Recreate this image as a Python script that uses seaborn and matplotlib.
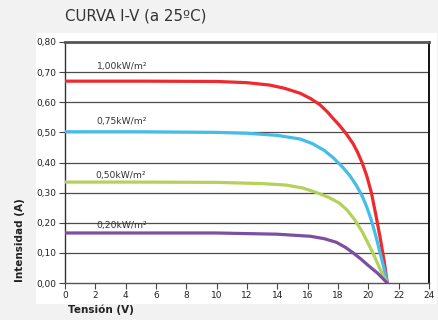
import numpy as np
import pandas as pd
import matplotlib
matplotlib.use("Agg")
import matplotlib.pyplot as plt
from matplotlib.patches import Rectangle
from matplotlib.ticker import FuncFormatter, MultipleLocator
import seaborn as sns

# Curve points (voltage V, current A)
v_100 = [0, 5, 10, 12, 13.5, 14.5, 15.5, 16.2, 16.8, 17.3, 17.7, 18.1, 18.55, 19.0, 19.3, 19.6, 19.9, 20.2, 20.5, 20.8, 21.05, 21.25]
i_100 = [0.670, 0.670, 0.669, 0.665, 0.657, 0.646, 0.630, 0.612, 0.592, 0.568, 0.545, 0.523, 0.495, 0.462, 0.433, 0.398, 0.355, 0.300, 0.225, 0.145, 0.070, 0.0]

v_075 = [0, 5, 10, 12, 14, 15.5, 16.3, 17.1, 17.7, 18.3, 18.8, 19.2, 19.6, 19.9, 20.2, 20.5, 20.8, 21.05, 21.25]
i_075 = [0.502, 0.502, 0.500, 0.497, 0.490, 0.478, 0.463, 0.440, 0.415, 0.385, 0.355, 0.325, 0.288, 0.252, 0.208, 0.155, 0.095, 0.045, 0.0]

v_050 = [0, 5, 10, 13, 14.6, 15.7, 16.6, 17.4, 18.1, 18.6, 19.1, 19.6, 20.0, 20.3, 20.6, 20.9, 21.25]
i_050 = [0.335, 0.335, 0.334, 0.330, 0.325, 0.315, 0.300, 0.284, 0.265, 0.242, 0.210, 0.170, 0.130, 0.100, 0.066, 0.032, 0.0]

v_020 = [0, 5, 10, 14, 16.2, 17.1, 17.9, 18.5, 19.0, 19.5, 20.0, 20.6, 21.25]
i_020 = [0.166, 0.166, 0.166, 0.162, 0.155, 0.147, 0.135, 0.118, 0.100, 0.080, 0.058, 0.033, 0.0]

labels = ["1,00kW/m²", "0,75kW/m²", "0,50kW/m²", "0,20kW/m²"]
label_x = [2.1, 2.05, 2.0, 2.1]
label_y = [0.712, 0.527, 0.349, 0.183]
colors = ["#ee2a2e", "#45bde8", "#b4d15a", "#7b4fa1"]

frames = []
for lab, v, i in zip(labels, [v_100, v_075, v_050, v_020], [i_100, i_075, i_050, i_020]):
    frames.append(pd.DataFrame({"V": v, "I": i, "curve": lab}))
df = pd.concat(frames, ignore_index=True)

sns.set_style("white")
plt.rcParams['font.family'] = ['DejaVu Sans']

fig = plt.figure(figsize=(4.39, 3.20), dpi=100)
fig.patch.set_facecolor("#f2f2f2")

# white panel behind the chart
bg = fig.add_axes([36 / 439, 16 / 320, 401 / 439, 271 / 320], zorder=-1)
bg.add_patch(Rectangle((0, 0), 1, 1, transform=bg.transAxes, facecolor="white", edgecolor="none"))
bg.axis("off")

ax = fig.add_axes([65 / 439, 37 / 320, 364 / 439, 241 / 320])
ax.set_facecolor("white")

for y in np.arange(0.1, 0.75, 0.1):
    ax.axhline(y, color="#4d4d4d", lw=0.9, zorder=1)

sns.lineplot(data=df, x="V", y="I", hue="curve", palette=colors,
             hue_order=labels, sort=False, estimator=None, lw=2.3,
             solid_joinstyle="round", solid_capstyle="round",
             legend=False, ax=ax, zorder=3)

for lab, x, y in zip(labels, label_x, label_y):
    ax.text(x, y, lab, fontsize=6.6, color="#333333", va="baseline", ha="left")

ax.set_xlim(0, 24)
ax.set_ylim(0, 0.8)
ax.xaxis.set_major_locator(MultipleLocator(2))
ax.yaxis.set_major_locator(MultipleLocator(0.1))
ax.yaxis.set_major_formatter(FuncFormatter(lambda v, p: f"{v:.2f}".replace(".", ",")))
ax.tick_params(axis="both", direction="out", length=4, width=0.8, color="#444444",
               labelsize=6.5, labelcolor="#222222", pad=2)
ax.tick_params(axis="x", bottom=True)
ax.tick_params(axis="y", left=True)

ax.spines["top"].set_color("#555555")
ax.spines["top"].set_linewidth(2.0)
ax.spines["right"].set_color("#111111")
ax.spines["right"].set_linewidth(1.4)
ax.spines["left"].set_color("#333333")
ax.spines["left"].set_linewidth(1.0)
ax.spines["bottom"].set_color("#555555")
ax.spines["bottom"].set_linewidth(1.0)
ax.set_xlabel("")
ax.set_ylabel("")

fig.text(65 / 439, 1 - 16 / 320, "CURVA I-V (a 25ºC)", fontsize=10.8,
         color="#333333", ha="left", va="center")
fig.text(68 / 439, 1 - 310 / 320, "Tensión (V)", fontsize=7.5, fontweight="bold",
         color="#222222", ha="left", va="center")
fig.text(20 / 439, 38 / 320, "Intensidad (A)", fontsize=7.5, fontweight="bold",
         color="#222222", ha="center", va="bottom", rotation=90)

fig.savefig("out.png", dpi=100, facecolor=fig.get_facecolor())
